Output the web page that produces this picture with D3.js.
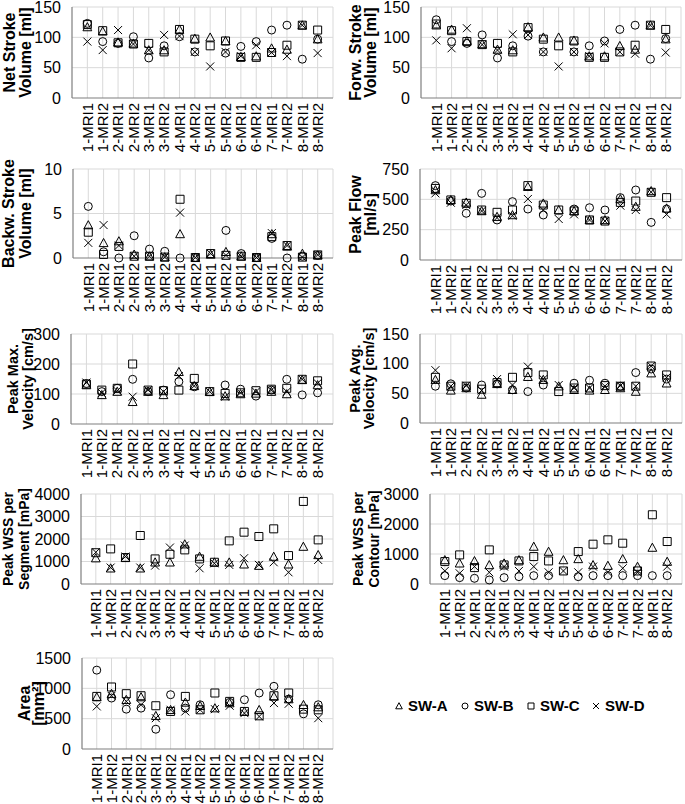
<!DOCTYPE html>
<html><head><meta charset="utf-8">
<script src="https://cdn.jsdelivr.net/npm/d3@7"></script>
<style>
html,body{margin:0;padding:0;background:#fff;}
svg text{font-family:"Liberation Sans",Arial,sans-serif;fill:#000;}
</style></head>
<body><svg id="c" width="685" height="804"></svg>
<script>
const categories = ["1-MRI1","1-MRI2","2-MRI1","2-MRI2","3-MRI1","3-MRI2","4-MRI1","4-MRI2","5-MRI1","5-MRI2","6-MRI1","6-MRI2","7-MRI1","7-MRI2","8-MRI1","8-MRI2"];
const seriesNames = ["SW-A","SW-B","SW-C","SW-D"];

// Net Stroke Volume [ml]
const netA = [117,110,92,90,79,79,113,98,100,94,68,69,82,80,120,97];
const netB = [123,93,90,101,66,86,101,76,null,74,85,93,112,120,64,97];
const netC = [121,111,91,89,90,76,113,97,86,94,67,67,75,87,120,112];
const netD = [93,79,112,89,79,104,102,76,52,76,69,87,75,69,120,74];
// Forward Stroke Volume [ml]
const fwdA = [120,113,94,89,80,79,117,100,100,95,69,69,86,80,120,97];
const fwdB = [129,93,90,104,66,86,102,76,null,76,86,94,113,120,64,98];
const fwdC = [122,111,93,88,90,76,116,97,86,94,67,67,76,87,120,113];
const fwdD = [95,82,115,88,79,105,104,76,52,76,69,90,76,73,120,75];
// Backward Stroke Volume [ml]
const bwdA = [3.7,1.7,1.9,0.4,0.2,0.1,2.7,0.05,0.4,0.7,0.2,0.05,2.7,1.3,0.5,0.3];
const bwdB = [5.8,0.7,0,2.5,1.0,0.75,0,0.05,null,3.1,0.5,0.05,2.2,0,0.2,0.3];
const bwdC = [2.9,0.4,1.3,0.2,0.2,0.1,6.6,0.05,0.5,0.3,0.2,0.05,2.4,1.4,0.1,0.35];
const bwdD = [1.7,3.7,1.4,0.2,0.2,0.1,5.1,0.05,0.5,0.3,0.2,0.05,2.8,1.4,0.1,0.35];
// Peak Flow [ml/s]
const flowA = [577,495,475,404,357,371,604,467,412,404,330,330,503,440,569,426];
const flowB = [613,486,385,549,330,481,420,371,null,420,431,412,514,577,310,420];
const flowC = [590,495,467,412,393,412,613,453,412,404,330,321,475,486,558,514];
const flowD = [549,472,453,404,349,365,503,412,338,376,330,321,448,412,560,376];
// Peak Max. Velocity [cm/s]
const vmaxA = [130,97,108,74,108,97,174,127,108,93,100,102,108,100,147,130];
const vmaxB = [135,108,119,149,108,113,141,124,null,130,116,93,113,149,97,104];
const vmaxC = [133,113,119,200,113,111,113,152,108,102,104,111,116,119,149,144];
const vmaxD = [138,104,111,91,113,108,160,127,108,91,104,108,113,108,149,136];
// Peak Avg. Velocity [cm/s]
const vavgA = [73,55,59,48,66,56,78,73,62,56,55,56,59,53,84,67];
const vavgB = [62,66,59,64,66,56,53,64,null,67,72,67,62,85,91,74];
const vavgC = [77,62,62,57,68,77,85,81,53,59,59,63,62,62,96,81];
const vavgD = [89,62,63,55,74,64,95,74,64,59,59,62,63,62,96,77];
// Peak WSS per Segment [mPa]
const wssSegA = [1150,700,1174,700,966,966,1770,1220,966,966,877,817,1220,877,1664,1293];
const wssSegB = [null,null,null,null,null,null,null,null,null,null,null,null,null,null,null,null];
const wssSegC = [1390,1560,1174,2155,1115,1322,1516,1115,966,1917,2303,2110,2452,1263,3670,1961];
const wssSegD = [1410,730,1220,730,817,1620,1710,700,920,850,1144,850,966,520,null,1070];
// Peak WSS per Contour [mPa]
const wssConA = [800,691,769,635,691,800,1249,1081,800,836,635,613,836,580,1215,747];
const wssConB = [279,212,190,134,212,245,279,279,null,245,279,279,279,279,279,279];
const wssConC = [747,970,546,1137,635,769,914,769,435,1081,1327,1472,1360,435,2308,1416];
const wssConD = [435,357,580,390,580,435,580,390,435,390,580,390,524,390,null,580];
// Area [mm²]
const areaA = [856,912,812,856,547,646,768,713,674,757,619,646,867,823,729,691];
const areaB = [1300,840,657,674,326,895,674,729,null,768,812,923,1033,823,580,729];
const areaC = [867,1022,912,878,713,619,867,646,923,785,619,547,878,923,657,646];
const areaD = [702,878,785,729,508,646,619,646,657,713,591,536,757,746,null,508];

const panels = [
  {title:["Net Stroke","Volume [ml]"], ticks:[0,50,100,150], series:[netA,netB,netC,netD], rect:[72,7,333,98], tb:[15,31], fs:16},
  {title:["Forw. Stroke","Volume [ml]"], ticks:[0,50,100,150], series:[fwdA,fwdB,fwdC,fwdD], rect:[421,7,681,98], tb:[361,376], fs:16},
  {title:["Backw. Stroke","Volume [ml]"], ticks:[0,5,10], series:[bwdA,bwdB,bwdC,bwdD], rect:[73,169,333,258], tb:[14,31], fs:16},
  {title:["Peak Flow","[ml/s]"], ticks:[0,250,500,750], series:[flowA,flowB,flowC,flowD], rect:[420,169,682,260], tb:[361,376], fs:16},
  {title:["Peak Max.","Velocity [cm/s]"], ticks:[0,100,200,300], series:[vmaxA,vmaxB,vmaxC,vmaxD], rect:[71,334,333,424], tb:[18,33], fs:14.5},
  {title:["Peak Avg.","Velocity [cm/s]"], ticks:[0,50,100,150], series:[vavgA,vavgB,vavgC,vavgD], rect:[420,334,682,423], tb:[360,374], fs:14.5},
  {title:["Peak WSS per","Segment [mPa]"], ticks:[0,1000,2000,3000,4000], series:[wssSegA,wssSegB,wssSegC,wssSegD], rect:[81,494,333,584], tb:[13,29], fs:14},
  {title:["Peak WSS per","Contour [mPa]"], ticks:[0,1000,2000,3000], series:[wssConA,wssConB,wssConC,wssConD], rect:[430,494,682,584], tb:[363,379], fs:14},
  {title:["Area","[mm²]"], ticks:[0,500,1000,1500], series:[areaA,areaB,areaC,areaD], rect:[82,658,333,749], tb:[30,44], fs:16}
];

const svg = d3.select("#c");
const GRID = "#d9d9d9", AXIS = "#7f7f7f";

function markerPath(k, s) {
  if (k === 0) { const h = s * 1.1; return `M0,${-h}L${s*1.1},${h*0.85}L${-s*1.1},${h*0.85}Z`; }
  if (k === 1) return d3.symbol(d3.symbolCircle, Math.PI * s * s)();
  if (k === 2) return `M${-s},${-s}H${s}V${s}H${-s}Z`;
  return `M${-s},${-s}L${s},${s}M${s},${-s}L${-s},${s}`;
}

panels.forEach(p => {
  const [x0, y0, x1, y1] = p.rect;
  const ymax = p.ticks[p.ticks.length - 1];
  const x = d3.scaleLinear().domain([0, categories.length + 1]).range([x0, x1]);
  const y = d3.scaleLinear().domain([0, ymax]).range([y1, y0]);
  const g = svg.append("g");

  g.selectAll("line.vg").data(categories).enter().append("line")
    .attr("x1", (d, i) => x(i + 1)).attr("x2", (d, i) => x(i + 1))
    .attr("y1", y0).attr("y2", y1).attr("stroke", GRID).attr("stroke-width", 1);
  g.selectAll("line.hg").data(p.ticks.slice(1)).enter().append("line")
    .attr("x1", x0).attr("x2", x1).attr("y1", d => y(d)).attr("y2", d => y(d))
    .attr("stroke", GRID).attr("stroke-width", 1);
  g.append("line").attr("x1", x1).attr("x2", x1).attr("y1", y0).attr("y2", y1).attr("stroke", GRID);
  g.append("line").attr("x1", x0).attr("x2", x0).attr("y1", y0).attr("y2", y1).attr("stroke", AXIS).attr("stroke-width", 1.2);
  g.append("line").attr("x1", x0).attr("x2", x1).attr("y1", y1).attr("y2", y1).attr("stroke", AXIS).attr("stroke-width", 1.2);

  g.selectAll("text.yt").data(p.ticks).enter().append("text")
    .attr("x", x0 - 11).attr("y", d => y(d)).attr("dy", "0.35em")
    .attr("text-anchor", "end").style("font-size", "16px").text(d => d);

  g.selectAll("text.xt").data(categories).enter().append("text")
    .attr("transform", (d, i) => `translate(${x(i + 1)},${y1 + 5}) rotate(-90)`)
    .attr("dy", "0.35em").attr("text-anchor", "end").style("font-size", "15px").text(d => d);

  const cy = (y0 + y1) / 2;
  p.title.forEach((t, i) => {
    g.append("text").attr("transform", `translate(${p.tb[i]},${cy}) rotate(-90)`)
      .attr("text-anchor", "middle").style("font-size", p.fs + "px").style("font-weight", "bold").text(t);
  });

  p.series.forEach((vals, k) => {
    const pts = vals.map((v, i) => ({v, i})).filter(d => d.v !== null);
    g.selectAll(null).data(pts).enter().append("path")
      .attr("transform", d => `translate(${x(d.i + 1)},${y(d.v)})`)
      .attr("d", markerPath(k, 4))
      .attr("fill", "none").attr("stroke", "#000").attr("stroke-width", 1);
  });
});

const legX = [399, 465, 531, 596];
const lg = svg.append("g");
seriesNames.forEach((n, k) => {
  lg.append("path").attr("transform", `translate(${legX[k]},706)`).attr("d", markerPath(k, 3))
    .attr("fill", "none").attr("stroke", "#000").attr("stroke-width", 1);
  lg.append("text").attr("x", legX[k] + 9).attr("y", 706).attr("dy", "0.35em")
    .style("font-size", "15px").style("font-weight", "bold").text(n);
});
</script></body></html>
